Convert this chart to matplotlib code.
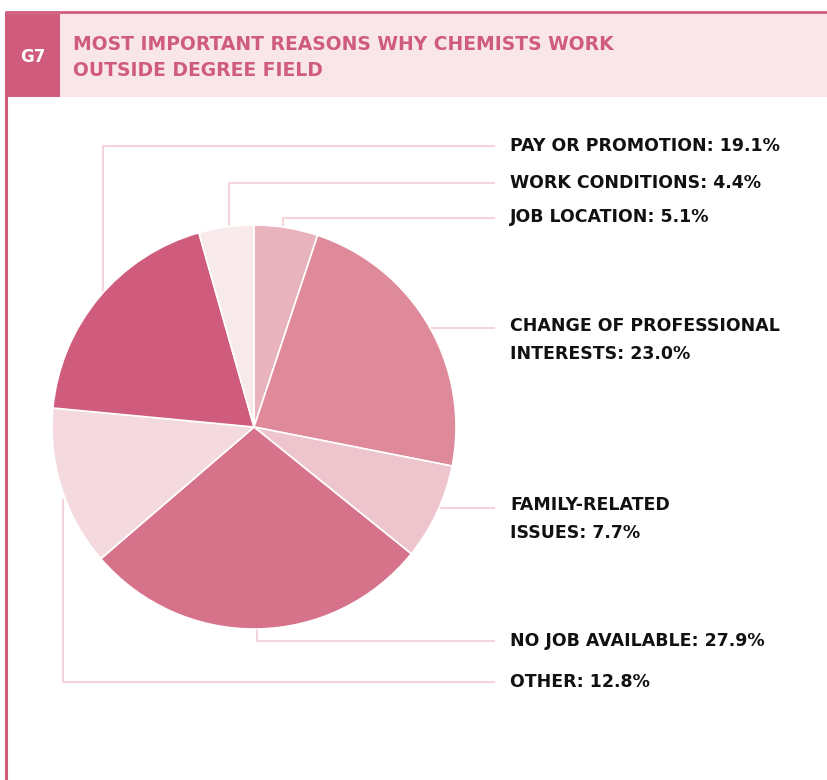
import numpy as np
import matplotlib.pyplot as plt

# slice data, clockwise from 12 o'clock
reasons = ['JOB LOCATION', 'CHANGE OF PROFESSIONAL\nINTERESTS', 'FAMILY-RELATED\nISSUES',
           'NO JOB AVAILABLE', 'OTHER', 'PAY OR PROMOTION', 'WORK CONDITIONS']
shares = [5.1, 23.0, 7.7, 27.9, 12.8, 19.1, 4.4]
colors = ['#e8b3bd', '#df8a9a', '#eec5cd', '#d6738a', '#f4d9de', '#cf5c7c', '#f8e9ea']

W, H = 827, 780
ACCENT = '#cf5c7c'
LINE = '#f5d5da'


def main():
    fig = plt.figure(figsize=(W / 100, H / 100), dpi=100)
    ax = fig.add_axes([0, 0, 1, 1])

    Y = lambda py: H - py  # pixel row -> axes y

    # pie
    cx, cy, r = 254, Y(427), 202
    ax.pie(shares, colors=colors, startangle=90, counterclock=False,
           center=(cx, cy), radius=r, frame=True,
           wedgeprops=dict(edgecolor='white', linewidth=1.2))
    ax.set_xlim(0, W)
    ax.set_ylim(0, H)
    ax.set_aspect('equal')
    ax.axis('off')

    # frame + header band
    ax.plot([5, W], [Y(12), Y(12)], color=ACCENT, lw=2, solid_capstyle='butt')
    ax.plot([6, 6], [Y(12), 0], color=ACCENT, lw=2.2, solid_capstyle='butt')
    ax.add_patch(plt.Rectangle((60, Y(97)), W - 60, 83, color='#f9e6e9', lw=0))
    ax.add_patch(plt.Rectangle((6, Y(97)), 54, 83, color=ACCENT, lw=0))
    ax.text(33, Y(57), 'G7', color='white', fontsize=12, fontweight='bold',
            ha='center', va='center')
    ax.text(73, Y(45), 'MOST IMPORTANT REASONS WHY CHEMISTS WORK', color=ACCENT,
            fontsize=13.5, fontweight='bold', va='center')
    ax.text(73, Y(71), 'OUTSIDE DEGREE FIELD', color=ACCENT,
            fontsize=13.5, fontweight='bold', va='center')

    # leader lines (drawn beneath the pie)
    lx = 494
    leaders = [
        [(103, 300), (103, 146), (lx, 146)],
        [(229, 240), (229, 183), (lx, 183)],
        [(283, 240), (283, 218), (lx, 218)],
        [(300, 328), (lx, 328)],
        [(300, 508), (lx, 508)],
        [(257, 600), (257, 641), (lx, 641)],
        [(63, 500), (63, 682), (lx, 682)],
    ]
    for pts in leaders:
        xs = [p[0] for p in pts]
        ys = [Y(p[1]) for p in pts]
        ax.plot(xs, ys, color=LINE, lw=1.5, zorder=0)

    # labels
    label_rows = {'JOB LOCATION': 217, 'CHANGE OF PROFESSIONAL\nINTERESTS': 340,
                  'FAMILY-RELATED\nISSUES': 519, 'NO JOB AVAILABLE': 641, 'OTHER': 682,
                  'PAY OR PROMOTION': 146, 'WORK CONDITIONS': 183}
    for name, val in zip(reasons, shares):
        ax.text(510, Y(label_rows[name]), f'{name}: {val:.1f}%', color='#111111',
                fontsize=12.5, fontweight='bold', va='center', ha='left',
                linespacing=1.65)

    fig.savefig('out.png', dpi=100)


if __name__ == "__main__":
    main()
